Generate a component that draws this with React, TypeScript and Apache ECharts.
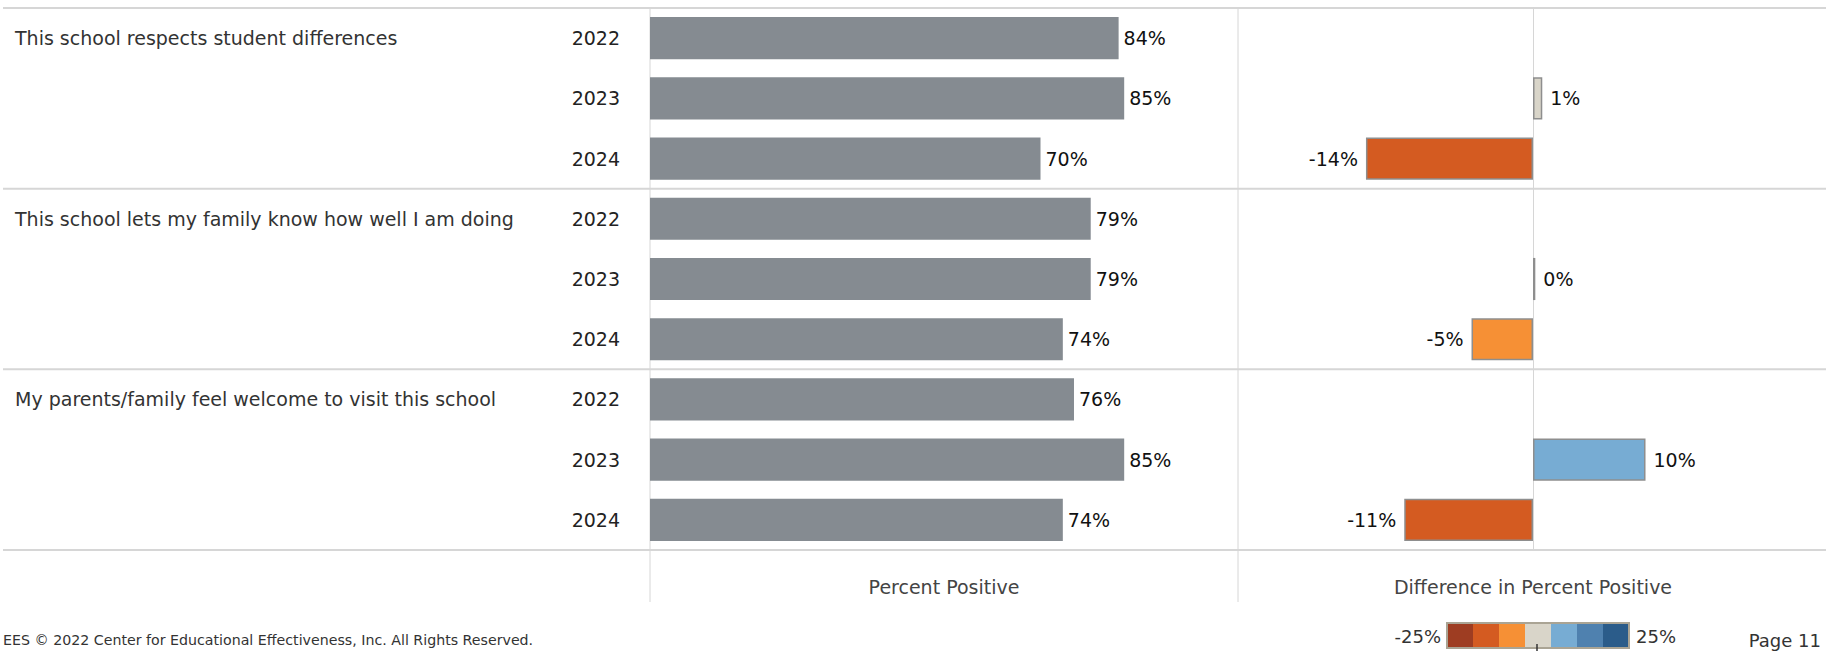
import React, { useEffect, useRef } from "react";
import * as echarts from "echarts";

const questions = [
  "This school respects student differences",
  "This school lets my family know how well I am doing",
  "My parents/family feel welcome to visit this school",
];
const years = ["2022", "2023", "2024"];
const percentPositive = [84, 85, 70, 79, 79, 74, 76, 85, 74];
const difference: (number | null)[] = [null, 0.8, -14.4, null, 0.2, -5.3, null, 9.7, -11.1];
const diffColors = ["#9e3d22", "#d45b21", "#f69035", "#d9d5c9", "#77acd3", "#4f81af", "#2b5c8a"];
const diffMin = -25;
const diffMax = 25;
const percentMax = 105.4;
const legendLabels = ["-25%", "25%"];
const axisTitles = ["Percent Positive", "Difference in Percent Positive"];
const footerText = "EES © 2022 Center for Educational Effectiveness, Inc. All Rights Reserved.";
const pageText = "Page 11";

const FONT = "DejaVu Sans";
const FS = 19;
const W = 1826;
const H = 651;

function diffColor(v: number) {
  const step = (diffMax - diffMin) / diffColors.length;
  const i = Math.max(0, Math.min(diffColors.length - 1, Math.floor((v - diffMin) / step)));
  return diffColors[i];
}

export default function App() {
  const ref = useRef<HTMLDivElement>(null);
  useEffect(() => {
    if (!ref.current) return;
    const chart = echarts.init(ref.current, null, { renderer: "svg" });
    const rows = questions.flatMap((q, qi) => years.map((y) => `${qi}|${y}`));
    const gTop = 8;
    const gH = 542;
    const p1L = 650;
    const p2L = 1238;
    const lineColor = "#d6d6d6";

    const hLines = [0, 1, 2, 3].map((i) => ({
      type: "line",
      shape: { x1: 3, y1: gTop + (gH / 3) * i, x2: W, y2: gTop + (gH / 3) * i },
      style: { stroke: lineColor, lineWidth: 2 },
      silent: true,
    }));
    const vLines = [p1L, p2L].map((x) => ({
      type: "line",
      shape: { x1: x, y1: gTop, x2: x, y2: 602 },
      style: { stroke: lineColor, lineWidth: 1 },
      silent: true,
    }));

    const legX = 1447;
    const legY = 623;
    const sw = 26;
    const legendRects = diffColors.map((c, i) => ({
      type: "rect",
      shape: { x: legX + i * sw, y: legY, width: sw, height: 25 },
      style: { fill: c },
      silent: true,
    }));

    const option: any = {
      animation: false,
      backgroundColor: "#ffffff",
      textStyle: { fontFamily: FONT },
      grid: [
        { left: p1L, top: gTop, width: p2L - p1L, height: gH },
        { left: 1243, top: gTop, width: 580, height: gH },
      ],
      xAxis: [
        {
          gridIndex: 0,
          type: "value",
          min: 0,
          max: percentMax,
          axisLine: { show: false },
          axisTick: { show: false },
          axisLabel: { show: false },
          splitLine: { show: false },
          name: axisTitles[0],
          nameLocation: "middle",
          nameGap: 27,
          nameTextStyle: { fontFamily: FONT, fontSize: FS, color: "#444" },
        },
        {
          gridIndex: 1,
          type: "value",
          min: diffMin,
          max: diffMax,
          axisLine: { show: false },
          axisTick: { show: false },
          axisLabel: { show: false },
          splitLine: { show: false },
          name: axisTitles[1],
          nameLocation: "middle",
          nameGap: 27,
          nameTextStyle: { fontFamily: FONT, fontSize: FS, color: "#444" },
        },
      ],
      yAxis: [
        {
          gridIndex: 0,
          type: "category",
          data: rows,
          inverse: true,
          axisLine: { show: false },
          axisTick: { show: false },
          splitLine: { show: false },
          axisLabel: {
            margin: 30,
            fontFamily: FONT,
            fontSize: FS,
            color: "#222",
            formatter: (v: string) => v.split("|")[1],
          },
        },
        {
          gridIndex: 0,
          type: "category",
          data: rows,
          inverse: true,
          position: "left",
          axisLine: { show: false },
          axisTick: { show: false },
          splitLine: { show: false },
          axisLabel: {
            margin: p1L - 15,
            align: "left",
            fontFamily: FONT,
            fontSize: FS,
            color: "#333",
            interval: 0,
            formatter: (v: string, idx: number) =>
              idx % years.length === 0 ? questions[Number(v.split("|")[0])] : "",
          },
        },
        {
          gridIndex: 1,
          type: "category",
          data: rows,
          inverse: true,
          axisLine: { show: true, onZero: true, lineStyle: { color: lineColor, width: 1 } },
          axisTick: { show: false },
          axisLabel: { show: false },
          splitLine: { show: false },
        },
      ],
      series: [
        {
          type: "bar",
          xAxisIndex: 0,
          yAxisIndex: 0,
          data: percentPositive,
          barWidth: "70%",
          itemStyle: { color: "#858b91" },
          label: {
            show: true,
            position: "right",
            distance: 5,
            fontFamily: FONT,
            fontSize: FS,
            color: "#111",
            formatter: (p: any) => `${Math.round(p.value)}%`,
          },
        },
        {
          type: "bar",
          xAxisIndex: 1,
          yAxisIndex: 2,
          barWidth: "70%",
          data: difference.map((v) =>
            v === null
              ? "-"
              : {
                  value: v,
                  itemStyle: { color: diffColor(v), borderColor: "#8e8e8e", borderWidth: 1.5 },
                  label: { position: v < 0 ? "left" : "right" },
                }
          ),
          label: {
            show: true,
            distance: 8,
            fontFamily: FONT,
            fontSize: FS,
            color: "#111",
            formatter: (p: any) => `${Math.round(p.value) + 0}%`,
          },
        },
      ],
      graphic: [
        ...hLines,
        ...vLines,
        ...legendRects,
        {
          type: "rect",
          shape: { x: legX, y: legY, width: sw * diffColors.length, height: 25 },
          style: { fill: "none", stroke: "#aaa494", lineWidth: 2 },
          silent: true,
        },
        {
          type: "line",
          shape: { x1: legX + (sw * diffColors.length) / 2 - 1, y1: 644, x2: legX + (sw * diffColors.length) / 2 - 1, y2: 651 },
          style: { stroke: "#333", lineWidth: 1.5 },
          silent: true,
        },
        {
          type: "text",
          x: legX - 6,
          y: legY + 13,
          style: { text: legendLabels[0], fontFamily: FONT, fontSize: 18, fill: "#333", align: "right", verticalAlign: "middle" },
        },
        {
          type: "text",
          x: legX + sw * diffColors.length + 7,
          y: legY + 13,
          style: { text: legendLabels[1], fontFamily: FONT, fontSize: 18, fill: "#333", align: "left", verticalAlign: "middle" },
        },
        {
          type: "text",
          x: 1821,
          y: 640,
          style: { text: pageText, fontFamily: FONT, fontSize: 18, fill: "#333", align: "right", verticalAlign: "middle" },
        },
        {
          type: "text",
          x: 3,
          y: 640,
          style: { text: footerText, fontFamily: FONT, fontSize: 14.2, fill: "#333", align: "left", verticalAlign: "middle" },
        },
      ],
    };
    chart.setOption(option);
    return () => chart.dispose();
  }, []);
  return (
    <div
      ref={ref}
      style={{ position: "fixed", left: 0, top: 0, width: W, height: H, background: "#fff" }}
    />
  );
}
